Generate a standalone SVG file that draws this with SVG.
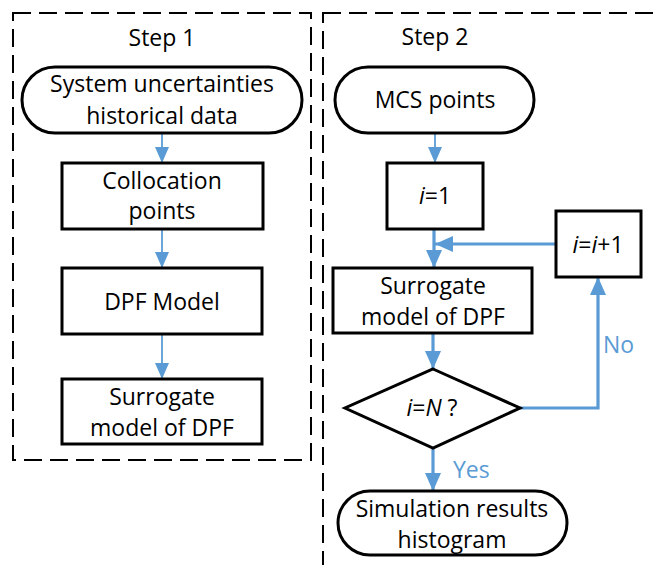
<svg xmlns="http://www.w3.org/2000/svg" width="656" height="565" viewBox="0 0 656 565">
<defs>
<style>
.frame{fill:none;stroke:#000;stroke-width:2;stroke-dasharray:18 8}
.box{fill:#fff;stroke:#000;stroke-width:3}
.t{font-family:"Open Sans","Liberation Sans",sans-serif;font-size:23px;fill:#000;text-anchor:middle}
.lbl{font-family:"Open Sans","Liberation Sans",sans-serif;font-size:23px;fill:#5B9BD5}
.thin{fill:none;stroke:#5B9BD5;stroke-width:1.8}
.thick{fill:none;stroke:#5B9BD5;stroke-width:3.2}
</style>
<marker id="ah1" markerUnits="userSpaceOnUse" markerWidth="16" markerHeight="16" viewBox="0 0 16 16" refX="16" refY="8" orient="auto">
<path d="M0,1 L16,8 L0,15 Z" fill="#5B9BD5"/>
</marker>
<marker id="ah2" markerUnits="userSpaceOnUse" markerWidth="18" markerHeight="18" viewBox="0 0 18 18" refX="18" refY="9" orient="auto">
<path d="M0,1 L18,9 L0,17 Z" fill="#5B9BD5"/>
</marker>
</defs>

<g id="step1-frame">
<rect class="frame" x="13" y="13" width="298" height="447"/>
<text class="t" x="162" y="46">Step 1</text>
</g>
<g id="step2-frame">
<rect class="frame" x="323" y="13" width="345" height="570"/>
<text class="t" x="435" y="45">Step 2</text>
</g>

<g id="connectors">
<path class="thin" d="M162,133 V163" marker-end="url(#ah1)"/>
<path class="thin" d="M162,229 V268" marker-end="url(#ah1)"/>
<path class="thin" d="M162,334 V379" marker-end="url(#ah1)"/>
<path class="thin" d="M435,133 V163" marker-end="url(#ah1)"/>
<path class="thick" d="M434,229 V268" marker-end="url(#ah2)"/>
<path class="thick" d="M556,244 H435" marker-end="url(#ah2)"/>
<path class="thick" d="M433,333 V369" marker-end="url(#ah2)"/>
<path class="thick" d="M520,408 H598 V277" marker-end="url(#ah2)"/>
<path class="thick" d="M433,448 V491" marker-end="url(#ah2)"/>
<text class="lbl" x="603" y="353">No</text>
<text class="lbl" x="453" y="478">Yes</text>
</g>

<g id="n-uncertainties">
<rect class="box" x="22" y="67" width="280" height="66" rx="33" ry="33"/>
<text class="t" x="162" y="92">System uncertainties</text>
<text class="t" x="162" y="124">historical data</text>
</g>
<g id="n-collocation">
<rect class="box" x="62" y="163" width="201" height="66"/>
<text class="t" x="162" y="189">Collocation</text>
<text class="t" x="162" y="219">points</text>
</g>
<g id="n-dpf">
<rect class="box" x="62" y="268" width="200" height="66"/>
<text class="t" x="162" y="310">DPF Model</text>
</g>
<g id="n-surrogate1">
<rect class="box" x="62" y="379" width="200" height="65"/>
<text class="t" x="162" y="405">Surrogate</text>
<text class="t" x="162" y="436">model of DPF</text>
</g>

<g id="n-mcs">
<rect class="box" x="335" y="67" width="199" height="66" rx="33" ry="33"/>
<text class="t" x="435" y="108">MCS points</text>
</g>
<g id="n-i1">
<rect class="box" x="387" y="163" width="96" height="66"/>
<text class="t" x="435" y="204"><tspan font-style="italic">i</tspan>=1</text>
</g>
<g id="n-inc">
<rect class="box" x="556" y="211" width="85" height="66"/>
<text class="t" x="598" y="253"><tspan font-style="italic">i</tspan>=<tspan font-style="italic">i</tspan>+1</text>
</g>
<g id="n-surrogate2">
<rect class="box" x="333" y="268" width="199" height="65"/>
<text class="t" x="433" y="294">Surrogate</text>
<text class="t" x="433" y="325">model of DPF</text>
</g>
<g id="n-check">
<polygon class="box" points="433,369 520,408 433,448 345,408"/>
<text class="t" x="432" y="416"><tspan font-style="italic">i</tspan>=<tspan font-style="italic">N</tspan> ?</text>
</g>
<g id="n-result">
<rect class="box" x="338" y="491" width="229" height="64" rx="32" ry="32"/>
<text class="t" x="452" y="517">Simulation results</text>
<text class="t" x="452" y="548">histogram</text>
</g>
</svg>
